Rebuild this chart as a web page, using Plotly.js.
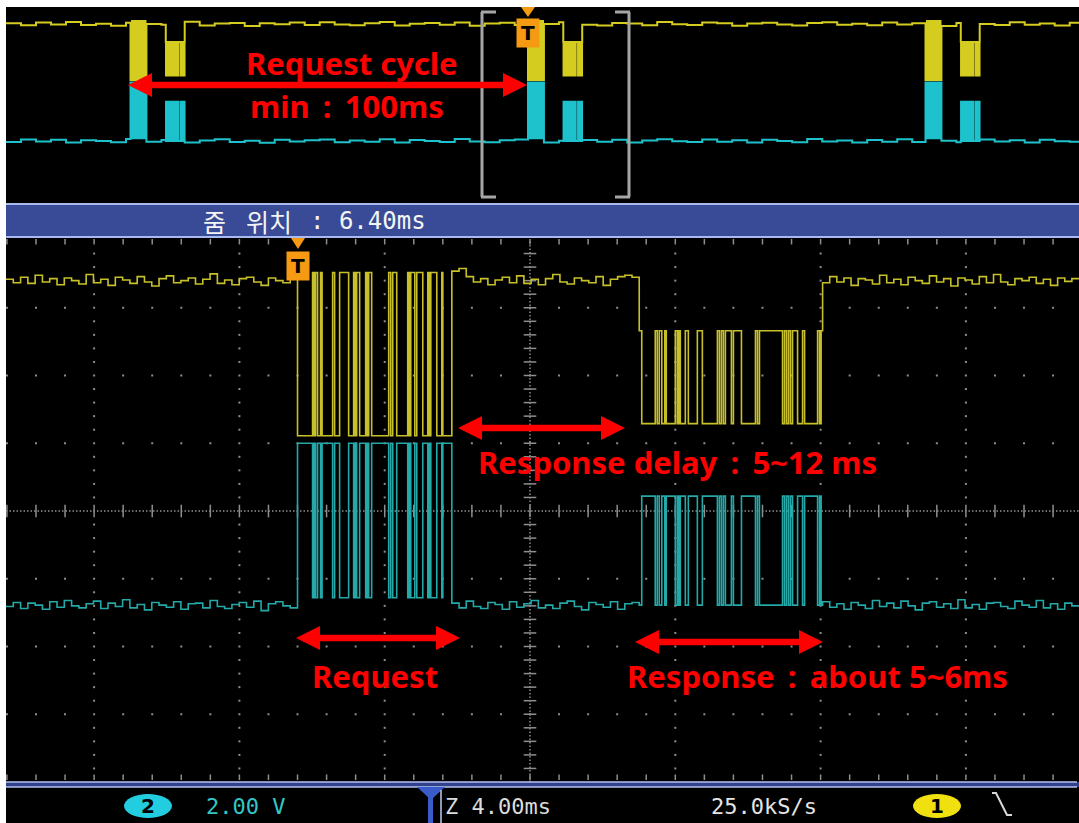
<!DOCTYPE html>
<html><head><meta charset="utf-8">
<script src="https://cdn.plot.ly/plotly-3.0.1.min.js"></script>
<style>html,body{margin:0;padding:0;background:#fff;overflow:hidden}#chart{width:1079px;height:823px}</style>
</head><body><div id="chart"></div>
<script>
// ================= DATA =================
// timebase / zoom
const timePerDiv = 4.00;      // ms / div  ("Z 4.00ms")
const zoomPos = 6.40;         // ms        ("줌 위치: 6.40ms")
const cycleStarts = [-106.0, 0, 106.0];  // request start times in overview (ms)

// request frame: toggle times (ms after trigger), line starts idle-high
const requestToggles = [0, 0.414, 0.455, 0.497, 0.552, 0.634, 0.676, 0.966, 1.021, 1.159,
  1.407, 1.545, 1.586, 1.628, 1.710, 1.876, 1.917, 1.959, 2.041, 2.510,
  2.566, 2.621, 2.731, 3.034, 3.076, 3.117, 3.228, 3.283, 3.448, 3.586,
  3.628, 3.669, 3.834, 3.972, 4.000];
const requestEnd = 4.248;
// response frame
const responseStart = 9.407;
const responseToggles = [9.476, 9.848, 9.903, 9.959, 10.028, 10.110, 10.152, 10.400, 10.455, 10.497,
  10.538, 10.676, 10.759, 11.007, 11.145, 11.559, 11.614, 11.669, 11.724, 11.779,
  11.945, 12.000, 12.221, 12.607, 12.662, 12.717, 13.352, 13.407, 13.462, 13.517,
  13.572, 13.628, 13.766, 13.903, 13.959, 14.317, 14.372, 14.414];
const responseEnd = 14.455;

// signal levels (divisions from screen centre)
const ch1Levels = [3.40, 3.52, 1.11, 2.66, 1.29];   // idle, req high, req low, resp high, resp low
const ch2Levels = [-1.39, -1.28, 1.00, -1.39, 0.22];

// baseline noise (0.01 div), main view: left / middle / right idle stretches
const ch1NoiseL = [2,-3,5,-4,8,-2,3,-6,4,0,-5,9,-3,2,-7,5,1,-4,6,-2,-8,3,7,-3,0,4,-5,2,10,-4,1,-6,3,5,-2,-7,4,0,-3,6];
const ch1NoiseM = [14,18,6,-2,3,-6,1,5,-3,7,-4,2,-6,3,9,-2,-5,4,0,-3,6,-7,2,6,8,5];
const ch1NoiseR = [-3,6,-2,4,-7,3,1,-5,8,-3,2,-6,5,0,-4,7,-2,3,-8,4,1,-5,6,-3,9,-2,-6,3,0,5,-4,2,-7,4,-1,3];
const ch2NoiseL = [-2,4,-5,3,0,-6,5,-3,7,-1,-4,2,6,-5,3,-2,8,-4,1,-7,4,0,-3,5,-6,2,3,-4,7,-2,-5,1,4,-3,6,-8,2,5,-1,-4];
const ch2NoiseM = [3,-4,6,-2,-5,4,1,-6,5,-3,2,7,-4,0,-5,3,6,-2,-7,4,1,-3,5,-6,2,4];
const ch2NoiseR = [5,-3,2,-6,4,0,-5,7,-2,3,-4,6,-1,-7,3,5,-3,2,-5,8,-4,1,-6,3,4,-2,-5,6,0,-3,7,-4,2,-6,3,-1];
// overview noise (0.01 div)
const ch1NoiseTop = [3,-5,6,-2,8,-4,1,-7,5,0,-3,9,-6,2,4,-8,3,-1,6,-4,7,-2,-5,3,8,-6,1,4,-3,6,-7,2,5,-4,0,7,-3,-6,4,2,-5,8,-1,-4,6,3,-7,2,5,-2,-6,4,7,-3,1,-5,6,-2,3,-8,4,0,-4,7,-3,2,-6,5,1,-4];
const ch2NoiseTop = [-4,6,-2,5,-7,3,0,-5,8,-3,4,-6,2,7,-4,1,-8,5,-2,3,6,-5,2,-3,7,-6,4,0,-4,8,-2,-5,3,6,-7,1,4,-3,5,-6,2,7,-1,-4,6,-3,3,-7,5,0,-5,8,-2,2,-6,4,-3,7,-4,1,-5,6,-2,3,-7,5,-1,-3,4,2];

// status texts
const ch2Scale = '2.00 V';
const sampleRate = '25.0kS/s';

// ================= GEOMETRY / HELPERS =================
const W = 1079, H = 823;
const PX = p => p / W;
const PY = p => 1 - p / H;
const divPx = 145.3;                 // screen px per horizontal division
const centerPx = 530;
const mainRange = [zoomPos - (centerPx - 6) / divPx * timePerDiv, zoomPos + (W - centerPx) / divPx * timePerDiv];
const topPxPerMs = 3.75, topTrigPx = 528;
const topRange = [(6 - topTrigPx) / topPxPerMs, (W - topTrigPx) / topPxPerMs];
const topPxPerDiv = 24.4, topZeroPy = 107;
const topYRange = [-(200 - topZeroPy) / topPxPerDiv, (topZeroPy - 7) / topPxPerDiv];

function buildWave(levels, range, noiseSegs, noiseSeq, step) {
  const xs = [], ys = [];
  let seg = 0, cur = 0;
  const idle = (a, b) => {
    if (noiseSegs) {
      const arr = noiseSegs[seg++] || [0];
      for (let i = 0; i < arr.length; i++) { xs.push(a + (b - a) * i / arr.length); ys.push(levels[0] + arr[i] * 0.01); }
    } else {
      for (let t = a; t < b; t += step) { const v = noiseSeq[cur++] || 0; xs.push(t); ys.push(levels[0] + v * 0.01); }
    }
  };
  let tPrev = range[0];
  cycleStarts.forEach(c => {
    if (c + responseEnd < range[0] || c > range[1]) return;
    idle(tPrev, c);
    let s = true;
    requestToggles.forEach(t => { s = !s; xs.push(c + t); ys.push(s ? levels[1] : levels[2]); });
    idle(c + requestEnd, c + responseStart);
    s = true; xs.push(c + responseStart); ys.push(levels[3]);
    responseToggles.forEach(t => { s = !s; xs.push(c + t); ys.push(s ? levels[3] : levels[4]); });
    tPrev = c + responseEnd;
  });
  idle(tPrev, range[1]);
  xs.push(range[1]); ys.push(ys[ys.length - 1]);
  return { xs, ys };
}

const m1 = buildWave(ch1Levels, mainRange, [ch1NoiseL, ch1NoiseM, ch1NoiseR]);
const m2 = buildWave(ch2Levels, mainRange, [ch2NoiseL, ch2NoiseM, ch2NoiseR]);
const t1 = buildWave(ch1Levels, topRange, null, ch1NoiseTop, 4);
const t2 = buildWave(ch2Levels, topRange, null, ch2NoiseTop, 4);

// grid positions (derived from the division scheme)
const minorT = timePerDiv / 5;
const kMin = Math.ceil((mainRange[0] - zoomPos) / minorT), kMax = Math.floor((mainRange[1] - zoomPos) / minorT);
const minorX = [], majorX = [];
for (let k = kMin; k <= kMax; k++) { minorX.push(zoomPos + k * minorT); if (k % 5 === 0 && k !== 0) majorX.push(zoomPos + k * minorT); }
const gx = [], gy = [];
[-3, -2, -1, 1, 2, 3].forEach(y => minorX.forEach(x => { gx.push(x); gy.push(y); }));
majorX.forEach(x => { for (let j = -19; j <= 19; j++) { if (j % 5) { gx.push(x); gy.push(j * 0.2); } } });
const ex = [], ey = [];
minorX.forEach(x => { ex.push(x); ey.push(3.975); ex.push(x); ey.push(-3.93); });
const cyTicks = []; for (let j = -19; j <= 19; j++) if (j) cyTicks.push(j * 0.2);

const gridCol = '#8e8e8e';
const traces = [
  { type: 'scatter', mode: 'markers', x: gx, y: gy, xaxis: 'x', yaxis: 'y', hoverinfo: 'skip',
    marker: { symbol: 'square', size: 2, color: gridCol, line: { width: 0 } } },
  { type: 'scatter', mode: 'markers', x: ex, y: ey, xaxis: 'x', yaxis: 'y', hoverinfo: 'skip', cliponaxis: false,
    marker: { symbol: 'line-ns', size: 4, line: { width: 1.5, color: gridCol } } },
  { type: 'scatter', mode: 'lines', x: mainRange, y: [0, 0], xaxis: 'x', yaxis: 'y', hoverinfo: 'skip',
    line: { color: gridCol, width: 1.5, dash: '1.5px,2px' } },
  { type: 'scatter', mode: 'lines', x: [zoomPos, zoomPos], y: [-4, 4], xaxis: 'x', yaxis: 'y', hoverinfo: 'skip',
    line: { color: gridCol, width: 1.5, dash: '1.5px,2px' } },
  { type: 'scatter', mode: 'markers', x: minorX, y: minorX.map(() => 0), xaxis: 'x', yaxis: 'y', hoverinfo: 'skip',
    marker: { symbol: 'line-ns', size: 9, line: { width: 1.5, color: gridCol } } },
  { type: 'scatter', mode: 'markers', x: cyTicks.map(() => zoomPos), y: cyTicks, xaxis: 'x', yaxis: 'y', hoverinfo: 'skip',
    marker: { symbol: 'line-ew', size: 9, line: { width: 1.5, color: gridCol } } },
  // main view channels
  { type: 'scatter', mode: 'lines', x: m2.xs, y: m2.ys, xaxis: 'x', yaxis: 'y', hoverinfo: 'skip',
    line: { color: '#24a8a8', width: 1.6, shape: 'hv' } },
  { type: 'scatter', mode: 'lines', x: m1.xs, y: m1.ys, xaxis: 'x', yaxis: 'y', hoverinfo: 'skip',
    line: { color: '#c8c02a', width: 1.6, shape: 'hv' } },
  // overview channels
  { type: 'scatter', mode: 'lines', x: t2.xs, y: t2.ys, xaxis: 'x2', yaxis: 'y2', hoverinfo: 'skip',
    line: { color: '#1ec2cc', width: 2, shape: 'hv' } },
  { type: 'scatter', mode: 'lines', x: t1.xs, y: t1.ys, xaxis: 'x2', yaxis: 'y2', hoverinfo: 'skip',
    line: { color: '#d4cc1e', width: 2, shape: 'hv' } }
];

// ================= DECORATION =================
const shapes = [];
const rect = (x0, y0, x1, y1, fill, layer) => shapes.push({ type: 'rect', xref: 'paper', yref: 'paper', x0: PX(x0), x1: PX(x1), y0: PY(y1), y1: PY(y0), fillcolor: fill, line: { width: 0 }, layer: layer || 'below' });
const line = (x0, y0, x1, y1, color, w, layer) => shapes.push({ type: 'line', xref: 'paper', yref: 'paper', x0: PX(x0), x1: PX(x1), y0: PY(y0), y1: PY(y1), line: { color: color, width: w }, layer: layer || 'above' });
const poly = (pts, fill, layer) => shapes.push({ type: 'path', xref: 'paper', yref: 'paper', path: 'M' + pts.map(p => PX(p[0]).toFixed(5) + ',' + PY(p[1]).toFixed(5)).join('L') + 'Z', fillcolor: fill, line: { width: 0 }, layer: layer || 'above' });
const ellipse = (x0, y0, x1, y1, fill) => shapes.push({ type: 'circle', xref: 'paper', yref: 'paper', x0: PX(x0), x1: PX(x1), y0: PY(y1), y1: PY(y0), fillcolor: fill, line: { width: 0 }, layer: 'above' });
function dblArrow(x1, x2, y) {
  const hl = 24, hh = 12, sh = 3.2;
  poly([[x1, y], [x1 + hl, y - hh], [x1 + hl, y - sh], [x2 - hl, y - sh], [x2 - hl, y - hh], [x2, y], [x2 - hl, y + hh], [x2 - hl, y + sh], [x1 + hl, y + sh], [x1 + hl, y + hh]], '#ff0000');
}

rect(6, 7, W, H, '#000000');
// zoom-position bar
rect(6, 203, W, 238, '#394a96');
line(6, 204, W, 204, '#a9baf0', 2);
line(6, 237, W, 237, '#a9baf0', 2);
// bottom status bar border
rect(6, 782, W, 787, '#31418c', 'above');
line(6, 782, W - 2, 782, '#b4c2f2', 1.5);
line(6, 787, W - 2, 787, '#b4c2f2', 1.5);
// zoom bracket in overview
const brCol = '#a6a6a6';
line(482, 12, 482, 197, brCol, 3); line(481, 12, 496, 12, brCol, 3); line(481, 197, 496, 197, brCol, 3);
line(629, 12, 629, 197, brCol, 3); line(615, 12, 630, 12, brCol, 3); line(615, 197, 630, 197, brCol, 3);
// red arrows
dblArrow(128, 527, 85);
dblArrow(458, 625, 428);
dblArrow(296, 460, 638);
dblArrow(635, 823, 642);
// trigger triangles
poly([[291, 238], [305, 238], [298, 249]], '#f59a12');
poly([[521, 7], [535, 7], [528, 17]], '#f59a12');
// status bar items
ellipse(124, 794, 172, 818, '#22cde0');
ellipse(913, 794, 961, 818, '#f0e010');
poly([[417, 787], [445, 787], [433, 798], [429, 798]], '#3a5cc8');
rect(428, 797, 433, H, '#3a5cc8', 'above');
line(441, 790, 441, H, '#c4ccf2', 1.5);
shapes.push({ type: 'path', xref: 'paper', yref: 'paper', layer: 'above',
  path: 'M' + [[992, 793], [996, 793], [1007, 815], [1012, 815]].map(p => PX(p[0]).toFixed(5) + ',' + PY(p[1]).toFixed(5)).join('L'),
  line: { color: '#d8d8d8', width: 2 } });

const red = { family: 'Noto Sans, Open Sans, sans-serif', size: 31, color: '#ff0000', weight: 700 };
const mono = (size, color) => ({ family: 'DejaVu Sans Mono, Liberation Mono, monospace', size: size, color: color });
const ann = (x, y, text, font, xanchor) => ({ xref: 'paper', yref: 'paper', x: PX(x), y: PY(y), text: text, font: font, showarrow: false, xanchor: xanchor || 'center', yanchor: 'middle' });
const ts = '\u2009';
const ko = { family: 'Noto Sans CJK KR, sans-serif', size: 25, color: '#f4f4f4' };
const annotations = [
  ann(352, 63, 'Request cycle', red),
  ann(248, 106, 'min' + ts + ' : ' + ts + '100ms', red, 'left'),
  ann(677, 462, 'Response delay' + ts + ' : ' + ts + '5~12 ms', red),
  ann(375, 676, 'Request', red),
  ann(817, 676, 'Response' + ts + ' : ' + ts + 'about 5~6ms', red),
  ann(201, 221, '줌', ko, 'left'),
  ann(244, 221, '위치', ko, 'left'),
  ann(308, 221, ': 6.40ms', mono(24, '#f4f4f4'), 'left'),
  ann(148, 806, '<b>2</b>', { family: 'DejaVu Sans, sans-serif', size: 20, color: '#000' }),
  ann(245, 806, ch2Scale, mono(22, '#34c6c6')),
  ann(498, 806, 'Z ' + timePerDiv.toFixed(2) + 'ms', mono(22, '#dcdcdc')),
  ann(764, 806, sampleRate, mono(22, '#e4e4e4')),
  ann(937, 806, '<b>1</b>', { family: 'DejaVu Sans, sans-serif', size: 20, color: '#000' }),
  { xref: 'x', yref: 'paper', x: 0, y: PY(266), text: '<b>T</b>', showarrow: false, font: { family: 'DejaVu Sans, sans-serif', size: 20, color: '#000' },
    bgcolor: '#f59a12', width: 20, height: 26, borderpad: 1, xanchor: 'center', yanchor: 'middle' },
  { xref: 'x2', yref: 'paper', x: 0, y: PY(33), text: '<b>T</b>', showarrow: false, font: { family: 'DejaVu Sans, sans-serif', size: 20, color: '#000' },
    bgcolor: '#f59a12', width: 20, height: 26, borderpad: 1, xanchor: 'center', yanchor: 'middle' }
];

const ax = { visible: false, fixedrange: true, showgrid: false, zeroline: false };
const layout = {
  width: W, height: H, margin: { l: 0, r: 0, t: 0, b: 0 },
  paper_bgcolor: '#ffffff', plot_bgcolor: 'rgba(0,0,0,0)', showlegend: false,
  xaxis: Object.assign({ domain: [PX(6), 1], range: mainRange, anchor: 'y' }, ax),
  yaxis: Object.assign({ domain: [PY(782), PY(240)], range: [-4, 4], anchor: 'x' }, ax),
  xaxis2: Object.assign({ domain: [PX(6), 1], range: topRange, anchor: 'y2' }, ax),
  yaxis2: Object.assign({ domain: [PY(200), PY(7)], range: topYRange, anchor: 'x2' }, ax),
  shapes: shapes, annotations: annotations
};
Plotly.newPlot('chart', traces, layout, { staticPlot: true, displayModeBar: false });
</script></body></html>
